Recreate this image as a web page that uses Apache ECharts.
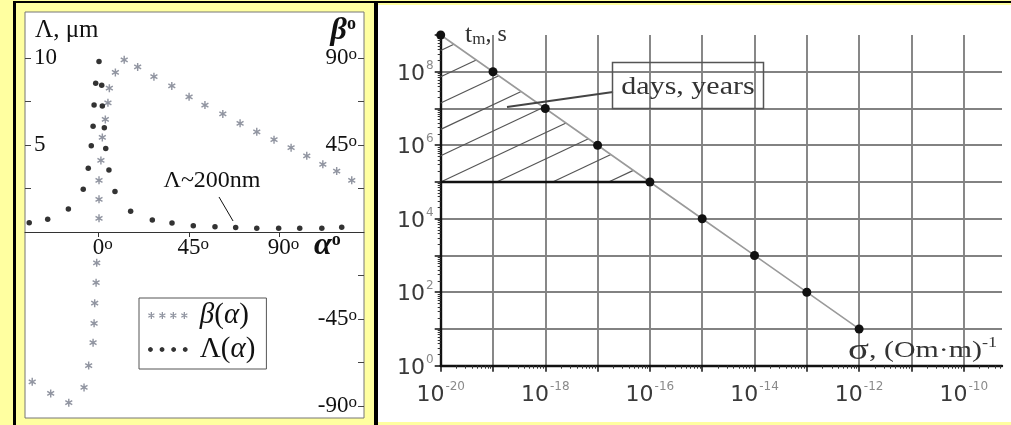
<!DOCTYPE html>
<html>
<head>
<meta charset="utf-8">
<script src="https://cdn.jsdelivr.net/npm/echarts@6/dist/echarts.min.js"></script>
<style>
html, body { margin: 0; padding: 0; background: #ffffa0; }
#wrap { position: relative; width: 1011px; height: 425px; overflow: hidden; }
.blk { position: absolute; background: #000; }
#chart { position: absolute; left: 0; top: 0; width: 1011px; height: 425px; }
</style>
</head>
<body>
<div id="wrap">
  <div class="blk" style="left:13px;top:1px;width:998px;height:2px"></div>
  <div class="blk" style="left:13px;top:1px;width:3px;height:424px"></div>
  <div class="blk" style="left:374px;top:1px;width:4px;height:424px"></div>
  <div style="position:absolute;left:378px;top:5px;width:633px;height:417px;background:#fff"></div>
  <div id="chart"></div>
</div>
<script>
// left panel: beta(alpha), degrees
const betaAlpha = [0.25, 0.25, 0.25, 1.2, 1.9, 3.4, 4.7, 5.4, 8.4, 12.8, 19.5, 27.6, 36.5, 45.1, 53.0, 61.9, 70.5, 78.8, 87.4, 95.9, 103.7, 111.7, 118.6, 126.1,
    -0.9, -1.2, -1.9, -2.2, -2.7, -4.9, -7.2, -14.8, -23.8, -33.0];
const betaDeg = [7.1, 16.9, 26.7, 37.0, 48.9, 58.2, 66.8, 74.3, 82.5, 89.0, 85.3, 80.3, 75.5, 69.9, 65.6, 61.0, 56.2, 51.8, 47.7, 43.6, 39.4, 35.0, 31.5, 26.7,
    -15.9, -26.2, -36.8, -47.2, -57.2, -69.0, -80.3, -88.2, -83.4, -77.4];

// left panel: Lambda(alpha), micrometres
const lambdaAlpha = [-34.5, -25.3, -15.0, -7.6, -5.1, -3.6, -2.7, -2.2, -1.4, 0.25, 1.6, 1.9, 2.9, 3.6, 5.2, 8.2, 16.0, 26.8, 36.6, 47.2, 58.0, 68.3, 78.8, 89.7, 100.2, 111.2, 121.1];
const lambdaUm = [0.53, 0.73, 1.32, 2.45, 3.66, 4.96, 6.07, 7.30, 8.55, 9.79, 8.43, 7.24, 5.99, 4.79, 3.56, 2.32, 1.19, 0.69, 0.52, 0.36, 0.30, 0.25, 0.21, 0.21, 0.21, 0.21, 0.27];

const alphaTicks = [0, 45, 90];
const lambdaTicks = [2.5, 5, 7.5, 10];
const lambdaLabels = [5, 10];
const betaTicks = [-90, -67.5, -45, -22.5, 22.5, 45, 67.5, 90];
const betaLabels = [-90, -45, 45, 90];
const noteArrow = [[60.0, 2.01], [67.0, 0.63]]; // "Lambda~200nm" pointer

// right panel: t_m vs sigma
const sigma = [1e-20, 1e-19, 1e-18, 1e-17, 1e-16, 1e-15, 1e-14, 1e-13, 1e-12];
const tm = [1e9, 1e8, 1e7, 1e6, 1e5, 1e4, 1e3, 1e2, 1e1];
const thresholdT = 1e5;
const minorMult = [2, 3, 4, 5, 6, 7, 8, 9];

const serif = "'Liberation Serif', 'Times New Roman', serif";
const sans = "'DejaVu Sans', 'Liberation Sans', sans-serif";

function asterisk(cx, cy, r, w) {
    let d = '';
    [90, 30, 150].forEach(function (a) {
        const t = a * Math.PI / 180;
        const dx = Math.cos(t) * r, dy = Math.sin(t) * r;
        const nx = -Math.sin(t) * w / 2, ny = Math.cos(t) * w / 2;
        const pts = [[cx + dx + nx, cy + dy + ny], [cx - dx + nx, cy - dy + ny], [cx - dx - nx, cy - dy - ny], [cx + dx - nx, cy + dy - ny]];
        d += 'M' + pts.map(p => p[0].toFixed(2) + ',' + p[1].toFixed(2)).join('L') + 'Z';
    });
    return d;
}
function disc(cx, cy, r) {
    let d = '';
    for (let i = 0; i < 12; i++) {
        const t = i / 12 * Math.PI * 2;
        d += (i ? 'L' : 'M') + (cx + r * Math.cos(t)).toFixed(2) + ',' + (cy + r * Math.sin(t)).toFixed(2);
    }
    return d + 'Z';
}
const astSymbol = 'path://' + asterisk(5, 5, 5, 1.8);
let astRow = '', dotRow = '';
for (let i = 0; i < 4; i++) {
    astRow += asterisk(5 + i * 15.7, 5, 5, 1.8);
    dotRow += disc(3.72 + i * 16.56, 5, 3.5);
}
// tiny corner marks keep both legend icons on the same box
dotRow += 'M0.22,0L0.3,0L0.3,0.08ZM0.22,10L0.3,10L0.3,9.92Z';

const lg = Math.log10;
const tmLine = sigma.map((s, i) => [lg(s), lg(tm[i])]);
const xMinor = [], yMinor = [];
for (let n = -20; n < -9; n++) minorMult.forEach(k => xMinor.push(n + lg(k)));
for (let n = 0; n < 9; n++) minorMult.forEach(k => yMinor.push(n + lg(k)));

const degRich = {
    n: { fontFamily: serif, fontSize: 23, color: '#111', lineHeight: 24 },
    o: { fontFamily: serif, fontSize: 17, color: '#111', lineHeight: 16, verticalAlign: 'top' },
    sp: { fontFamily: serif, fontSize: 17, color: 'rgba(0,0,0,0)', lineHeight: 16, verticalAlign: 'top' }
};
const powRich = {
    b: { fontFamily: sans, fontSize: 22, color: '#3a3a3a', lineHeight: 24, padding: [5, 0, 0, 0] },
    s: { fontFamily: sans, fontSize: 12, color: '#8a8a8a', lineHeight: 14, verticalAlign: 'top', padding: [0, 0, 0, 1] }
};
const powLabel = v => (v % 2 === 0 ? '{b|10}{s|' + v + '}' : '');

const chart = echarts.init(document.getElementById('chart'));

const option = {
    animation: false,
    grid: [
        { left: 25, top: 12, width: 339, height: 406, show: true, backgroundColor: '#fff', borderColor: '#777', borderWidth: 1, outerBoundsMode: 'none' },
        { left: 440.7, top: 35, width: 561.3, height: 330.7, outerBoundsMode: 'none' }
    ],
    legend: {
        left: 139, top: 298, orient: 'vertical',
        padding: [3, 11, 5, 9], itemGap: 5, itemWidth: 40, itemHeight: 7,
        borderColor: '#555', borderWidth: 1, backgroundColor: '#fff',
        selectedMode: false,
        data: [{ name: 'β(α)', icon: 'path://' + astRow }, { name: 'Λ(α)', icon: 'path://' + dotRow }],
        formatter: name => (name === 'β(α)' ? '{i|β}{u|(}{i|α}{u|)}' : '{u|Λ(}{i|α}{u|)}'),
        textStyle: {
            fontFamily: serif, fontSize: 29, color: '#111', lineHeight: 28, padding: [0, 0, 0, 7],
            rich: {
                i: { fontFamily: serif, fontSize: 29, fontStyle: 'italic', color: '#111', lineHeight: 28 },
                u: { fontFamily: serif, fontSize: 29, color: '#111', lineHeight: 28 }
            }
        }
    },
    xAxis: [
        {
            // alpha axis sits on Lambda = 0, i.e. 186 px above the grid bottom
            type: 'value', gridIndex: 0, min: -36.6, max: 132.2, position: 'bottom', offset: -186,
            axisLine: { onZero: false, lineStyle: { color: '#333', width: 1 } },
            axisTick: { customValues: alphaTicks, length: 5, lineStyle: { color: '#333' } },
            axisLabel: { customValues: alphaTicks, margin: 4, hideOverlap: false, formatter: v => '{sp|o}{n|' + v + '}{o|o}', rich: degRich },
            splitLine: { show: false }
        },
        {
            type: 'value', gridIndex: 1, min: -20, max: -9.268, interval: 1,
            axisLine: { onZero: false, lineStyle: { color: '#111', width: 2.4 } },
            axisTick: { length: 6, lineStyle: { color: '#111', width: 1.5 } },
            axisLabel: { margin: 15, showMaxLabel: false, formatter: powLabel, rich: powRich },
            splitLine: { show: true, showMinLine: false, showMaxLine: false, lineStyle: { color: '#828282', width: 1.9 } }
        },
        {
            type: 'value', gridIndex: 1, min: -20, max: -9.268, position: 'bottom',
            axisLine: { show: false, onZero: false },
            axisTick: { customValues: xMinor, length: 3, lineStyle: { color: '#333' } },
            axisLabel: { show: false }, splitLine: { show: false }
        }
    ],
    yAxis: [
        {
            type: 'value', gridIndex: 0, position: 'left', min: -10.69, max: 12.64,
            axisLine: { show: false, onZero: false },
            axisTick: { inside: true, customValues: lambdaTicks, length: 6, lineStyle: { color: '#444' } },
            axisLabel: { inside: true, margin: 9, customValues: lambdaLabels, formatter: v => '{n|' + v + '}', rich: degRich },
            splitLine: { show: false }
        },
        {
            type: 'value', gridIndex: 0, position: 'right', min: -96.1, max: 113.7,
            axisLine: { show: false, onZero: false },
            axisTick: { inside: true, customValues: betaTicks, length: 6, lineStyle: { color: '#444' } },
            axisLabel: { inside: true, margin: 7, customValues: betaLabels, formatter: v => '{n|' + v + '}{o|o}', rich: degRich },
            splitLine: { show: false }
        },
        {
            type: 'value', gridIndex: 1, position: 'left', min: 0, max: 9, interval: 1,
            axisLine: { onZero: false, lineStyle: { color: '#111', width: 2.4 } },
            axisTick: { length: 6, lineStyle: { color: '#111', width: 1.5 } },
            axisLabel: { margin: 7, formatter: powLabel, rich: powRich },
            splitLine: { show: true, showMinLine: false, showMaxLine: false, lineStyle: { color: '#828282', width: 1.9 } }
        },
        {
            type: 'value', gridIndex: 1, position: 'left', min: 0, max: 9,
            axisLine: { show: false, onZero: false },
            axisTick: { customValues: yMinor, length: 3, lineStyle: { color: '#333' } },
            axisLabel: { show: false }, splitLine: { show: false }
        }
    ],
    series: [
        {
            name: 'β(α)', type: 'scatter', xAxisIndex: 0, yAxisIndex: 1,
            symbol: astSymbol, symbolSize: 8, symbolKeepAspect: true,
            itemStyle: { color: '#767b8a' },
            data: betaAlpha.map((a, i) => [a, betaDeg[i]])
        },
        {
            name: 'Λ(α)', type: 'scatter', xAxisIndex: 0, yAxisIndex: 0,
            symbolSize: 5.5, itemStyle: { color: '#000' },
            data: lambdaAlpha.map((a, i) => [a, lambdaUm[i]]),
            markLine: {
                silent: true, symbol: ['none', 'arrow'], symbolSize: [0, 8],
                label: { show: false }, emphasis: { disabled: true },
                lineStyle: { color: '#111', width: 1, type: 'solid' },
                data: [[{ coord: noteArrow[0] }, { coord: noteArrow[1] }]]
            }
        },
        {
            type: 'custom', xAxisIndex: 1, yAxisIndex: 2, silent: true,
            encode: { x: [0, 2], y: [1, 3] },
            data: [[lg(sigma[0]), lg(thresholdT), lg(sigma[4]), lg(tm[0])]],
            renderItem: function (params, api) {
                const a = api.coord([api.value(0), api.value(1)]);
                const b = api.coord([api.value(2), api.value(1)]);
                const c = api.coord([api.value(0), api.value(3)]);
                const m = (b[1] - c[1]) / (b[0] - c[0]);
                const s = 0.47, gap = 26.3;
                const lines = [];
                for (let k = -10; k <= 10; k++) {
                    const off = k * gap;
                    let x0, y0;
                    if (off >= 0) { x0 = a[0]; y0 = a[1] - off; if (y0 <= c[1] + 2) continue; }
                    else { x0 = a[0] - off / s; y0 = a[1]; if (x0 >= b[0] - 2) continue; }
                    const x1 = (a[1] - off + s * a[0] - c[1] + m * c[0]) / (m + s);
                    const y1 = c[1] + m * (x1 - c[0]);
                    lines.push({ type: 'line', shape: { x1: x0, y1: y0, x2: x1, y2: y1 }, style: { stroke: '#555', lineWidth: 1.2 } });
                }
                return { type: 'group', children: lines };
            }
        },
        {
            type: 'line', xAxisIndex: 1, yAxisIndex: 2, silent: true, symbol: 'none',
            lineStyle: { color: '#111', width: 2.5 },
            data: [[lg(sigma[0]), lg(thresholdT)], [lg(sigma[4]), lg(thresholdT)]]
        },
        {
            type: 'line', xAxisIndex: 1, yAxisIndex: 2, silent: true, clip: false,
            symbol: 'circle', symbolSize: 9,
            lineStyle: { color: '#9a9a9a', width: 1.6 },
            itemStyle: { color: '#111' },
            data: tmLine,
            markLine: {
                silent: true, symbol: ['none', 'arrow'], symbolSize: [0, 11],
                label: { show: false }, emphasis: { disabled: true },
                lineStyle: { color: '#444', width: 2, type: 'solid', curveness: 0 },
                data: [[{ x: 613, y: 92 }, { x: 507, y: 107 }]]
            }
        }
    ],
    graphic: [
        { type: 'text', x: 35, y: 30, z: 100, style: { text: 'Λ, μm', fontFamily: serif, fontSize: 25, fill: '#111', verticalAlign: 'middle', textVerticalAlign: 'middle' } },
        {
            type: 'text', x: 356, y: 31, z: 100,
            style: {
                text: '{b|β}{o|o}', align: 'right', textAlign: 'right', verticalAlign: 'middle', textVerticalAlign: 'middle',
                rich: {
                    b: { fontFamily: serif, fontSize: 32, fontWeight: 'bold', fontStyle: 'italic', fill: '#111', lineHeight: 32 },
                    o: { fontFamily: serif, fontSize: 18, fontWeight: 'bold', fill: '#111', lineHeight: 18, verticalAlign: 'top' }
                }
            }
        },
        {
            type: 'text', x: 314, y: 246, z: 100,
            style: {
                text: '{b|α}{o|o}', verticalAlign: 'middle', textVerticalAlign: 'middle',
                rich: {
                    b: { fontFamily: serif, fontSize: 32, fontWeight: 'bold', fontStyle: 'italic', fill: '#111', lineHeight: 30 },
                    o: { fontFamily: serif, fontSize: 18, fontWeight: 'bold', fill: '#111', lineHeight: 18, verticalAlign: 'top' }
                }
            }
        },
        { type: 'text', x: 212, y: 181, z: 100, style: { text: 'Λ~200nm', fontFamily: serif, fontSize: 24, fill: '#111', align: 'center', textAlign: 'center', verticalAlign: 'middle', textVerticalAlign: 'middle' } },
        {
            type: 'text', x: 465, y: 35, z: 100,
            style: {
                text: '{t|t}{m|m}{c|, s}', verticalAlign: 'middle', textVerticalAlign: 'middle',
                rich: {
                    t: { fontFamily: serif, fontSize: 26, fill: '#333', lineHeight: 26 },
                    m: { fontFamily: serif, fontSize: 17, fill: '#333', lineHeight: 26, verticalAlign: 'bottom' },
                    c: { fontFamily: serif, fontSize: 24, fill: '#333', lineHeight: 26 }
                }
            }
        },
        {
            type: 'text', x: 848, y: 351, z: 100, scaleX: 1.3,
            style: {
                text: '{g|σ}{t|, (Om·m)}{s|-1}', verticalAlign: 'middle', textVerticalAlign: 'middle',
                rich: {
                    g: { fontFamily: serif, fontSize: 30, fill: '#333', lineHeight: 30 },
                    t: { fontFamily: serif, fontSize: 23, fill: '#333', lineHeight: 30 },
                    s: { fontFamily: serif, fontSize: 14, fill: '#333', lineHeight: 14, verticalAlign: 'top' }
                }
            }
        },
        { type: 'rect', z: 100, shape: { x: 612.5, y: 62.5, width: 151, height: 46 }, style: { fill: 'rgba(255,255,255,0)', stroke: '#555', lineWidth: 1.5 } },
        { type: 'text', x: 688, y: 87, z: 100, scaleX: 1.2, style: { text: 'days, years', fontFamily: serif, fontSize: 25, fill: '#333', align: 'center', textAlign: 'center', verticalAlign: 'middle', textVerticalAlign: 'middle' } }
    ]
};

chart.setOption(option);
</script>
</body>
</html>
